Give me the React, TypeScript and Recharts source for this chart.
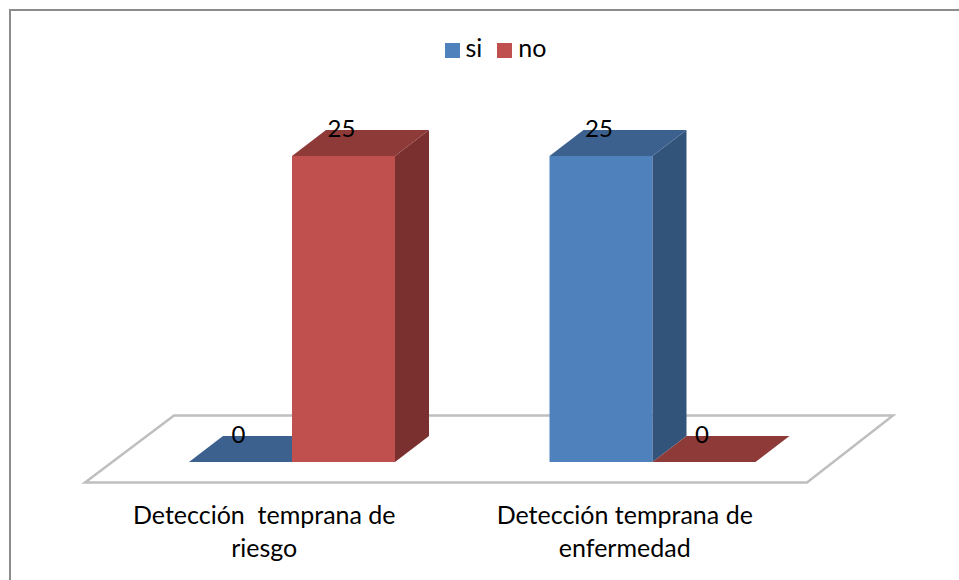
import { BarChart, Bar, XAxis, YAxis, Legend, LabelList, usePlotArea } from 'recharts';

const categories = ['Detección  temprana de riesgo', 'Detección temprana de enfermedad'];
const tickLines = [
  ['Detección  temprana de', 'riesgo'],
  ['Detección temprana de', 'enfermedad'],
];
const siValues = [0, 25];
const noValues = [25, 0];

const tableData = categories.map((name, i) => ({ name, si: siValues[i], no: noValues[i] }));

const FONT = 'Lato, "Open Sans", sans-serif';
const DEPTH_X = 34;
const DEPTH_Y = 26;

const siColors = { front: '#4F81BD', top: '#3C618F', side: '#32547B' };
const noColors = { front: '#C0504D', top: '#8E3A38', side: '#7B3030' };

// 3D box: front face plus the top and right faces pushed back by the depth offset
function boxShape(colors: { front: string; top: string; side: string }) {
  return function Box(props: any) {
    const { x, y, width, height } = props;
    const right = x + width;
    const bottom = y + height;
    return (
      <g>
        {height > 0 && <rect x={x} y={y} width={width} height={height} fill={colors.front} />}
        {height > 0 && (
          <polygon
            points={`${right},${y} ${right + DEPTH_X},${y - DEPTH_Y} ${right + DEPTH_X},${bottom - DEPTH_Y} ${right},${bottom}`}
            fill={colors.side}
          />
        )}
        <polygon
          points={`${x},${y} ${x + DEPTH_X},${y - DEPTH_Y} ${right + DEPTH_X},${y - DEPTH_Y} ${right},${y}`}
          fill={colors.top}
        />
      </g>
    );
  };
}

// Floor plane under the boxes, placed relative to the plot area
function Floor() {
  const plot = usePlotArea();
  if (!plot) return null;
  const left = plot.x;
  const right = plot.x + plot.width;
  const bottom = plot.y + plot.height;
  const points = [
    `${left - 27},${bottom + 20.5}`,
    `${left + 62},${bottom - 46.5}`,
    `${right + 60},${bottom - 46.5}`,
    `${right - 26},${bottom + 20.5}`,
  ].join(' ');
  return <polygon points={points} fill="#fff" stroke="#BFBFBF" strokeWidth={2.5} />;
}

function CategoryTick(props: any) {
  const { x, y, index } = props;
  return (
    <text x={x - 28} y={y + 56} textAnchor="middle" fontFamily={FONT} fontSize={25} fill="#000" style={{ whiteSpace: 'pre' }}>
      {tickLines[index].map((line, i) => (
        <tspan key={line} x={x - 28} dy={i === 0 ? 0 : 33}>
          {line}
        </tspan>
      ))}
    </text>
  );
}

export default function App() {
  return (
    <div
      style={{
        position: 'absolute',
        left: 0,
        top: 0,
        width: 959,
        height: 580,
        background: '#fff',
      }}
    >
      <div
        style={{
          position: 'absolute',
          left: 9,
          top: 9,
          width: 950,
          height: 571,
          borderLeft: '2px solid #8C8C8C',
          borderTop: '2px solid #8C8C8C',
          boxSizing: 'border-box',
        }}
      />
      <BarChart
        width={959}
        height={580}
        data={tableData}
        barSize={103}
        barGap={0}
        margin={{ top: 156, right: 126, bottom: 0, left: 112 }}
        style={{ position: 'absolute', left: 0, top: 0 }}
      >
        <Floor />
        <XAxis dataKey="name" axisLine={false} tickLine={false} tick={<CategoryTick />} height={118} interval={0} tickMargin={0} />
        <YAxis hide domain={[0, 25]} />
        <Legend
          verticalAlign="middle"
          align="center"
          iconType="square"
          iconSize={15}
          itemSorter={null}
          wrapperStyle={{ top: 32, left: 0, width: 1006, fontFamily: FONT, fontSize: 25 }}
          formatter={(value: string) => <span style={{ color: '#000', marginLeft: 2, marginRight: 5 }}>{value}</span>}
        />
        <Bar dataKey="si" fill={siColors.front} shape={boxShape(siColors)} isAnimationActive={false}>
          <LabelList dataKey="si" position="top" offset={19} dx={-2} fill="#000" fontFamily={FONT} fontSize={24} />
        </Bar>
        <Bar dataKey="no" fill={noColors.front} shape={boxShape(noColors)} isAnimationActive={false}>
          <LabelList dataKey="no" position="top" offset={19} dx={-2} fill="#000" fontFamily={FONT} fontSize={24} />
        </Bar>
      </BarChart>
    </div>
  );
}
